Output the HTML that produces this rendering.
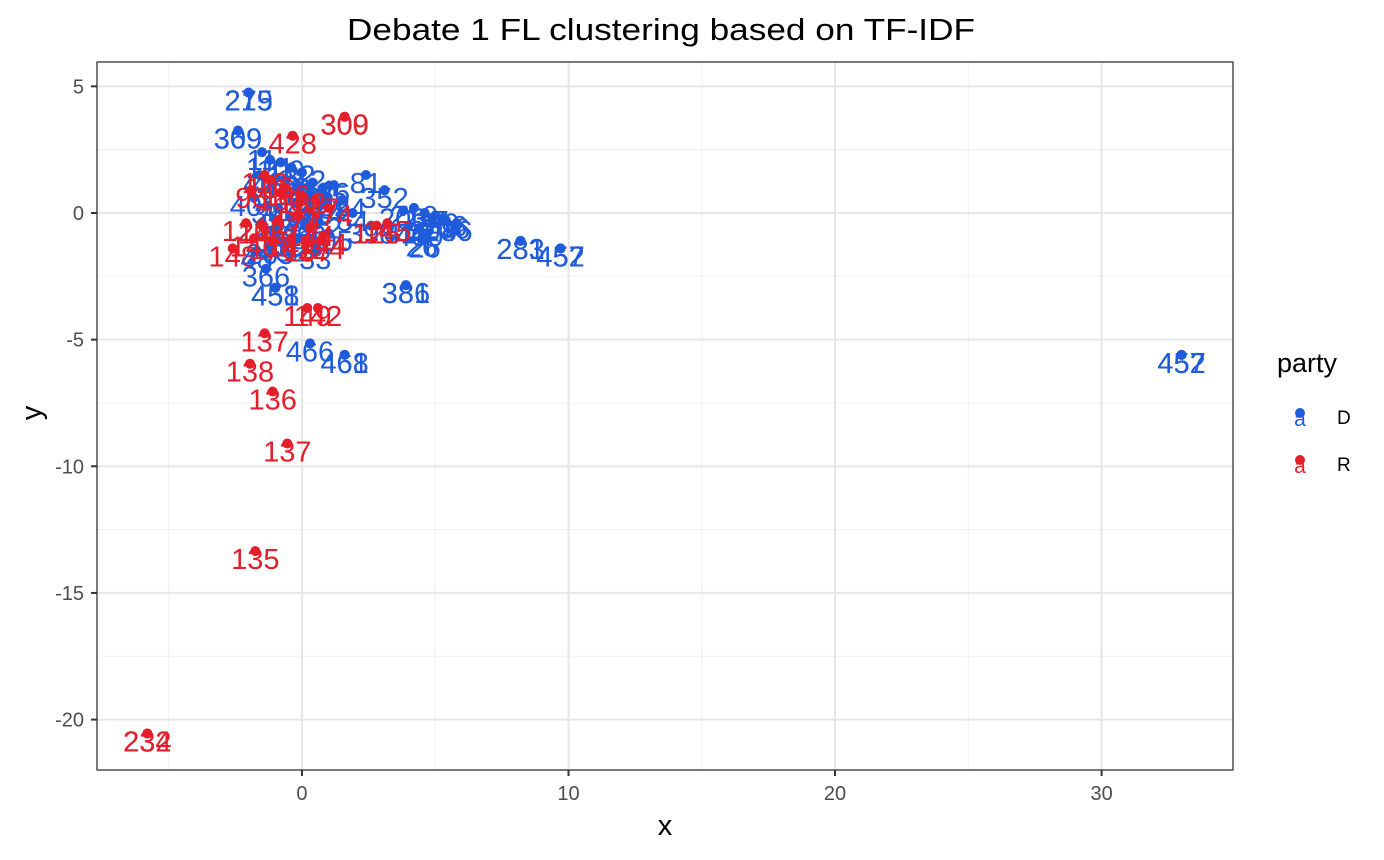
<!DOCTYPE html>
<html><head><meta charset="utf-8"><style>
body{margin:0;background:#fff;width:1384px;height:855px;overflow:hidden;font-family:"Liberation Sans",Arial,sans-serif}
</style></head><body>
<svg id="chart" width="1384" height="855" xmlns="http://www.w3.org/2000/svg" font-family="Liberation Sans, Arial, sans-serif">
<text x="347" y="40" font-size="31" textLength="628" lengthAdjust="spacingAndGlyphs" fill="#000">Debate 1 FL clustering based on TF-IDF</text>
<g id="grid"></g><g id="marks"></g><g id="axes"></g>
<text x="665" y="835" font-size="29" text-anchor="middle">x</text>
<text transform="translate(41,413) rotate(-90)" font-size="29" text-anchor="middle">y</text>
<g>
<text x="1277" y="372" font-size="27">party</text>
<g><circle cx="1300" cy="413" r="5" fill="#1F5BDB"/><text x="1300" y="426" font-size="21" text-anchor="middle" fill="#1F5BDB">a</text><text x="1337" y="424" font-size="19">D</text></g>
<g><circle cx="1300" cy="460" r="5" fill="#E41E2B"/><text x="1300" y="473" font-size="21" text-anchor="middle" fill="#E41E2B">a</text><text x="1337" y="471" font-size="19">R</text></g>
</g>
</svg>
<script>
const xTicks=[0,10,20,30];
const xMinor=[-5,5,15,25];
const yTicks=[5,0,-5,-10,-15,-20];
const yMinor=[2.5,-2.5,-7.5,-12.5,-17.5];
const ptX=[-2.0,-2.0,-2.4,-2.4,1.6,1.6,-0.35,8.2,8.2,9.7,9.7,3.9,3.9,-1.0,-1.0,-1.35,0.2,0.6,-1.4,0.3,1.6,1.6,-1.95,-1.1,-0.55,-1.75,-5.8,-5.8,33.0,33.0,-2.6,4.6,
-1.5,-1.2,-0.8,-0.4,0.0,0.4,0.8,1.2,-1.6,-1.0,-0.6,-0.2,0.3,0.9,1.5,2.4,3.1,-1.8,-1.3,-0.9,-0.3,0.2,0.7,1.9,2.6,-1.5,-1.0,-0.4,0.1,0.6,1.0,-1.7,-1.2,-0.7,-0.1,0.5,3.8,4.2,4.6,5.0,5.4,5.8,4.0,4.4,4.9,5.3,4.5,
-1.9,-1.2,-0.6,0.0,0.5,1.0,-2.1,-1.5,-0.9,-0.2,0.3,0.8,-1.8,-1.1,-0.4,0.2,0.7,2.8,3.2,-1.4,-0.8];
const ptY=[4.75,4.75,3.25,3.25,3.8,3.8,3.05,-1.1,-1.1,-1.4,-1.4,-2.85,-2.85,-2.95,-2.95,-2.2,-3.75,-3.75,-4.75,-5.15,-5.6,-5.6,-5.95,-7.05,-9.1,-13.35,-20.55,-20.55,-5.6,-5.6,-1.4,-1.05,
2.4,2.1,2.0,1.8,1.6,1.2,1.0,1.1,1.5,1.4,1.3,1.0,0.8,0.6,0.5,1.5,0.9,0.6,0.3,0.2,0.4,0.1,0.3,0.0,-0.5,-0.4,-0.6,-0.2,-0.5,-0.3,-0.8,-1.5,-1.3,-1.2,-1.0,-1.5,0.1,0.2,0.0,-0.1,-0.3,-0.4,-0.5,-0.6,-0.4,-0.2,-1.0,
0.9,1.3,1.0,0.7,0.5,0.2,-0.4,-0.5,-0.3,-0.1,-0.6,-0.9,-1.0,-1.1,-1.0,-1.2,-1.1,-0.5,-0.4,1.5,0.8];
const ptLabel=["275","219","369","309","300","309","428","283","281","457","452","386","381","458","451","366","149","142","137","466","461","468","138","136","137","135","232","234","457","452","148","26",
"11","121","109","122","212","261","255","86","41","460","412","13","90","182","394","81","352","401","36","246","18","76","224","54","398","222","46","341","465","362","405","48","265","432","395","33","203","210","227","239","206","46","416","400","208","356","26",
"96","106","186","162","147","174","120","145","127","174","144","144","146","176","147","187","124","125","145","116","160"];
const ptParty=["D","D","D","D","R","R","R","D","D","D","D","D","D","D","D","D","R","R","R","D","D","D","R","R","R","R","R","R","D","D","R","D",
"D","D","D","D","D","D","D","D","D","D","D","D","D","D","D","D","D","D","D","D","D","D","D","D","D","D","D","D","D","D","D","D","D","D","D","D","D","D","D","D","D","D","D","D","D","D","D",
"R","R","R","R","R","R","R","R","R","R","R","R","R","R","R","R","R","R","R","R","R"];
const L=97,R=1233,T=62,B=770,xmin=-7.69,xmax=34.93,ymin=-21.99,ymax=5.96;
const sx=v=>L+(v-xmin)/(xmax-xmin)*(R-L);
const sy=v=>B-(v-ymin)/(ymax-ymin)*(B-T);
const NS="http://www.w3.org/2000/svg";
function mk(tag,attrs,parent){const e=document.createElementNS(NS,tag);for(const k in attrs)e.setAttribute(k,attrs[k]);parent.appendChild(e);return e;}
const grid=document.getElementById('grid'),marks=document.getElementById('marks'),axes=document.getElementById('axes');
mk('rect',{x:L,y:T,width:R-L,height:B-T,fill:'#fff'},grid);
xMinor.forEach(v=>{const l=mk('line',{x1:sx(v),x2:sx(v),y1:T,y2:B,stroke:'#f0f0f0','stroke-width':1},grid);});
yMinor.forEach(v=>{const l=mk('line',{x1:L,x2:R,y1:sy(v),y2:sy(v),stroke:'#f0f0f0','stroke-width':1},grid);});
xTicks.forEach(v=>{const l=mk('line',{x1:sx(v),x2:sx(v),y1:T,y2:B,stroke:'#e6e6e6','stroke-width':2},grid);
 mk('line',{x1:sx(v),x2:sx(v),y1:B,y2:B+6,stroke:'#333','stroke-width':2},axes);
 const t=mk('text',{x:sx(v),y:B+30,'font-size':20,'text-anchor':'middle',fill:'#4d4d4d'},axes);t.textContent=v;});
yTicks.forEach(v=>{const l=mk('line',{x1:L,x2:R,y1:sy(v),y2:sy(v),stroke:'#e6e6e6','stroke-width':2},grid);
 mk('line',{x1:L-6,x2:L,y1:sy(v),y2:sy(v),stroke:'#333','stroke-width':2},axes);
 const t=mk('text',{x:L-13,y:sy(v)+7,'font-size':20,'text-anchor':'end',fill:'#4d4d4d'},axes);t.textContent=v;});
mk('rect',{x:L,y:T,width:R-L,height:B-T,fill:'none',stroke:'#333','stroke-width':1.3},axes);
ptX.forEach((xv,i)=>{const col=ptParty[i]==='D'?'#1F5BDB':'#E41E2B';
 const c=mk('circle',{cx:sx(xv),cy:sy(ptY[i]),r:5,fill:col},marks);
 
 
 const t=mk('text',{x:sx(xv),y:sy(ptY[i])+18,'font-size':29,'text-anchor':'middle',fill:col},marks);t.textContent=ptLabel[i];
 
 });
</script>
</body></html>
